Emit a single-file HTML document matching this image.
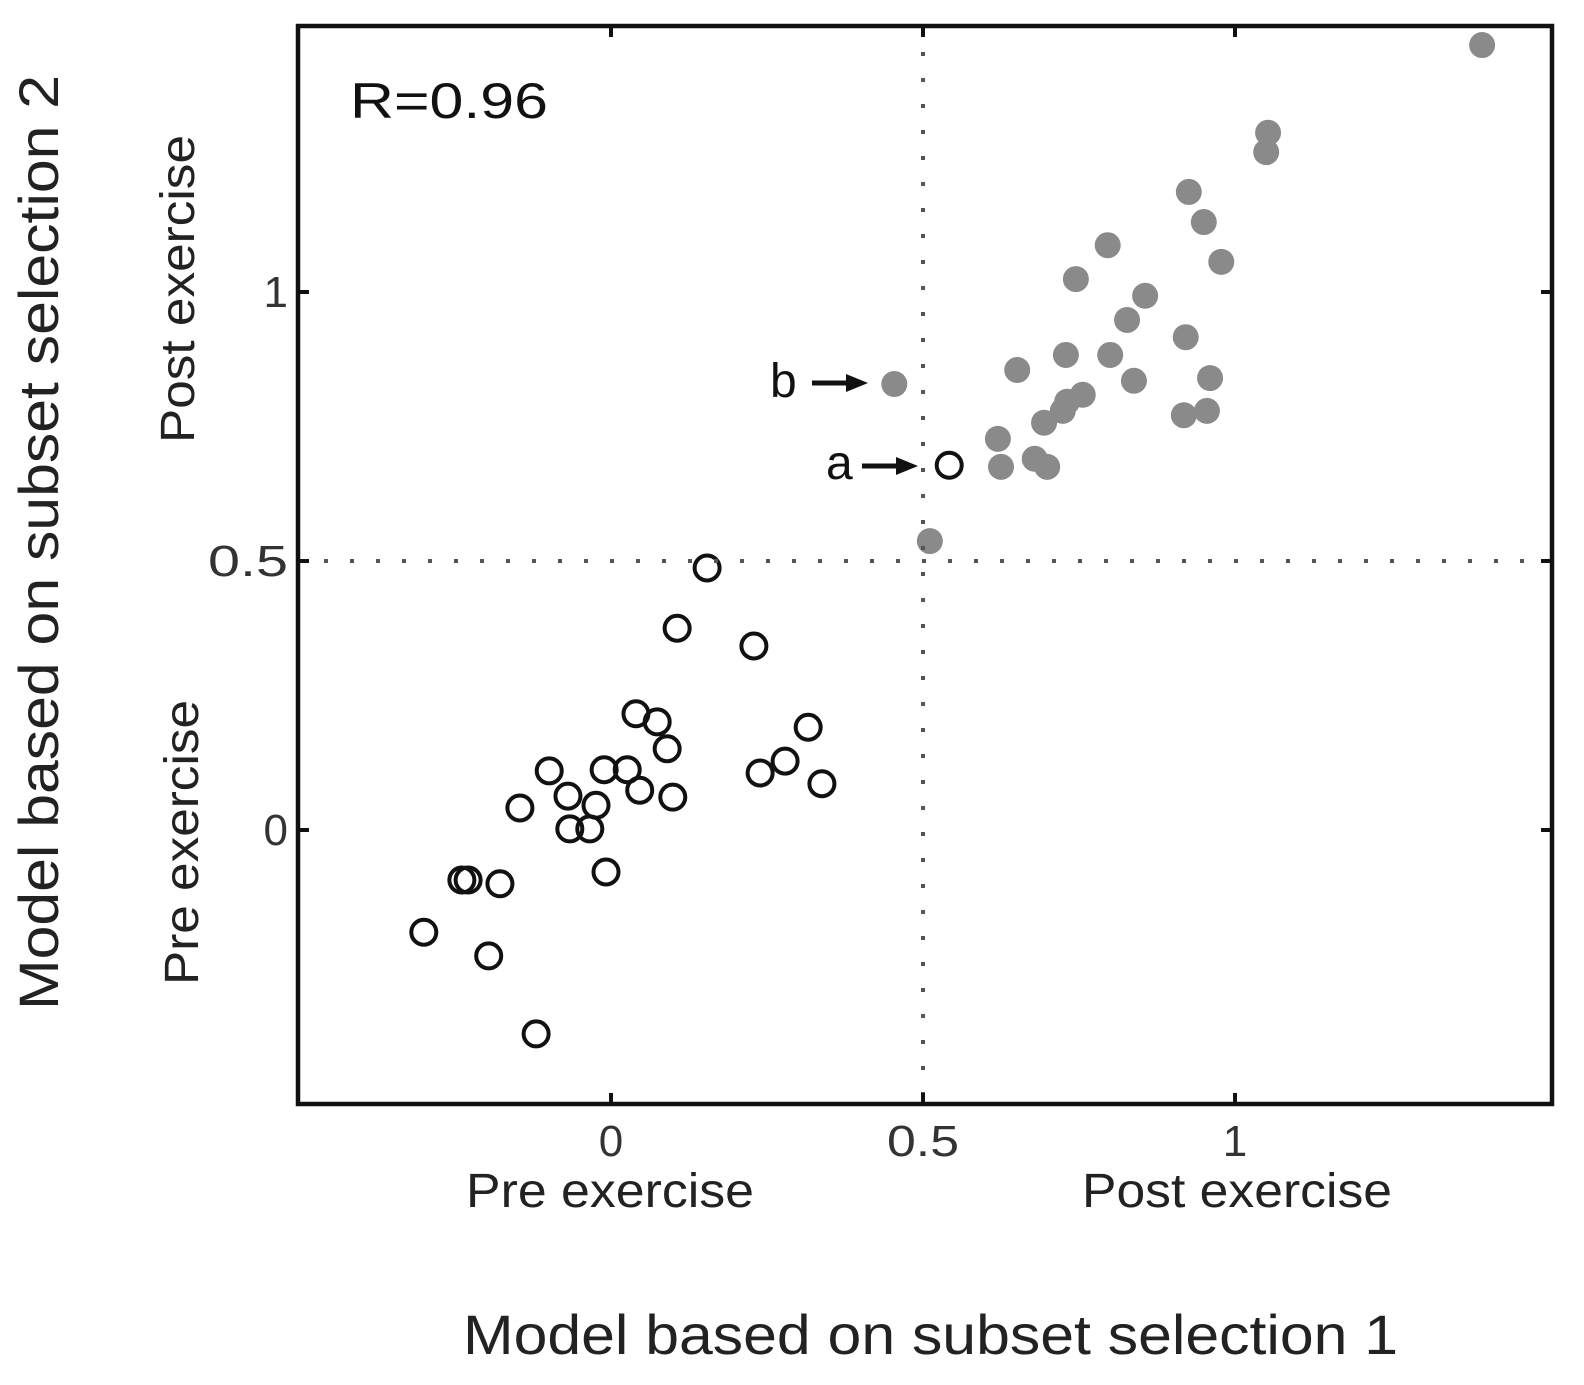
<!DOCTYPE html>
<html><head><meta charset="utf-8"><style>
html,body{margin:0;padding:0;background:#fff;}
svg{display:block;font-family:"Liberation Sans",sans-serif;}
</style></head><body>
<svg id="chart" width="1584" height="1385" viewBox="0 0 1584 1385">
<g id="marks"></g>
</svg>
<script>
const xTickValues=[0,0.5,1];
const yTickValues=[0,0.5,1];
const tickLabels=["0","0.5","1"];
const preX=[0.542,0.154,0.106,0.229,0.040,0.074,0.090,0.316,0.279,0.239,0.338,-0.099,-0.011,0.026,0.046,0.099,-0.069,-0.024,-0.146,-0.066,-0.034,-0.008,-0.239,-0.229,-0.178,-0.300,-0.196,-0.120];
const preY=[0.678,0.487,0.375,0.342,0.216,0.201,0.151,0.191,0.128,0.106,0.086,0.110,0.112,0.112,0.074,0.061,0.063,0.046,0.041,0.002,0.002,-0.078,-0.093,-0.093,-0.100,-0.190,-0.234,-0.379];
const postX=[1.396,1.053,1.050,0.926,0.950,0.796,0.978,0.745,0.856,0.827,0.921,0.651,0.729,0.800,0.454,0.838,0.960,0.756,0.731,0.724,0.694,0.918,0.955,0.620,0.625,0.679,0.699,0.511];
const postY=[1.459,1.296,1.260,1.186,1.130,1.087,1.056,1.024,0.993,0.948,0.916,0.855,0.883,0.883,0.829,0.835,0.840,0.809,0.796,0.779,0.757,0.771,0.779,0.727,0.675,0.690,0.675,0.537];

const L=298,R=1552,T=26,B=1104;
const sx=v=>611+v*624;
const sy=v=>830-v*538;
const NS="http://www.w3.org/2000/svg";
const svg=document.getElementById('chart');
const marks=document.getElementById('marks');
function mk(tag,attrs,parent){const e=document.createElementNS(NS,tag);for(const k in attrs)e.setAttribute(k,attrs[k]);(parent||svg).appendChild(e);return e;}

let e=mk('line',{x1:sx(0.5),x2:sx(0.5),y1:T,y2:B,stroke:'#555','stroke-width':4,'stroke-dasharray':'4 22'});


e=mk('line',{x1:L,x2:R,y1:sy(0.5),y2:sy(0.5),stroke:'#555','stroke-width':4,'stroke-dasharray':'4 22'});



e=mk('rect',{x:L,y:T,width:R-L,height:B-T,fill:'none',stroke:'#111','stroke-width':4.5});



xTickValues.forEach((v,i)=>{
  const x=sx(v);
  mk('line',{x1:x,x2:x,y1:B,y2:B-11,stroke:'#111','stroke-width':4});
  mk('line',{x1:x,x2:x,y1:T,y2:T+11,stroke:'#111','stroke-width':4});
  const t=mk('text',{x:x,y:1156,'text-anchor':'middle','font-size':44,fill:'#333'});
  if(tickLabels[i].length>1){t.setAttribute('textLength',72);t.setAttribute('lengthAdjust','spacingAndGlyphs');}
  t.textContent=tickLabels[i];
  
  
});
yTickValues.forEach((v,i)=>{
  const y=sy(v);
  mk('line',{x1:L,x2:L+11,y1:y,y2:y,stroke:'#111','stroke-width':4});
  mk('line',{x1:R,x2:R-11,y1:y,y2:y,stroke:'#111','stroke-width':4});
  const t=mk('text',{x:288,y:y+15,'text-anchor':'end','font-size':44,fill:'#333'});
  if(tickLabels[i].length>1){t.setAttribute('textLength',80);t.setAttribute('lengthAdjust','spacingAndGlyphs');}
  t.textContent=tickLabels[i];
  
  
});

postX.forEach((v,i)=>{
  const c=mk('circle',{cx:sx(v),cy:sy(postY[i]),r:13,fill:'#8a8a8a'},marks);
  
  
});
preX.forEach((v,i)=>{
  const c=mk('circle',{cx:sx(v),cy:sy(preY[i]),r:12.5,fill:'none',stroke:'#111','stroke-width':4},marks);
  
  
});
</script>
<svg style="position:absolute;left:0;top:0" width="1584" height="1385" font-family="Liberation Sans,sans-serif">
<text x="350" y="118" font-size="50" fill="#111" textLength="198" lengthAdjust="spacingAndGlyphs">R=0.96</text>
<text x="770" y="397" font-size="48" fill="#111">b</text>
<line x1="812" y1="383" x2="850" y2="383" stroke="#111" stroke-width="5"/>
<polygon points="846,374 868,383 846,392" fill="#111"/>
<text x="826" y="479" font-size="48" fill="#111">a</text>
<line x1="862" y1="466" x2="900" y2="466" stroke="#111" stroke-width="5"/>
<polygon points="896,457 918,466 896,475" fill="#111"/>
<text x="466" y="1207" font-size="48" fill="#222" textLength="288" lengthAdjust="spacingAndGlyphs">Pre exercise</text>
<text x="1082" y="1207" font-size="48" fill="#222" textLength="310" lengthAdjust="spacingAndGlyphs">Post exercise</text>
<text x="463" y="1354" font-size="56" fill="#222" textLength="935" lengthAdjust="spacingAndGlyphs">Model based on subset selection 1</text>
<text transform="translate(194,443) rotate(-90)" font-size="48" fill="#222" textLength="308" lengthAdjust="spacingAndGlyphs">Post exercise</text>
<text transform="translate(198,985) rotate(-90)" font-size="48" fill="#222" textLength="285" lengthAdjust="spacingAndGlyphs">Pre exercise</text>
<text transform="translate(58,1010) rotate(-90)" font-size="56" fill="#222" textLength="935" lengthAdjust="spacingAndGlyphs">Model based on subset selection 2</text>
</svg>
</body></html>
